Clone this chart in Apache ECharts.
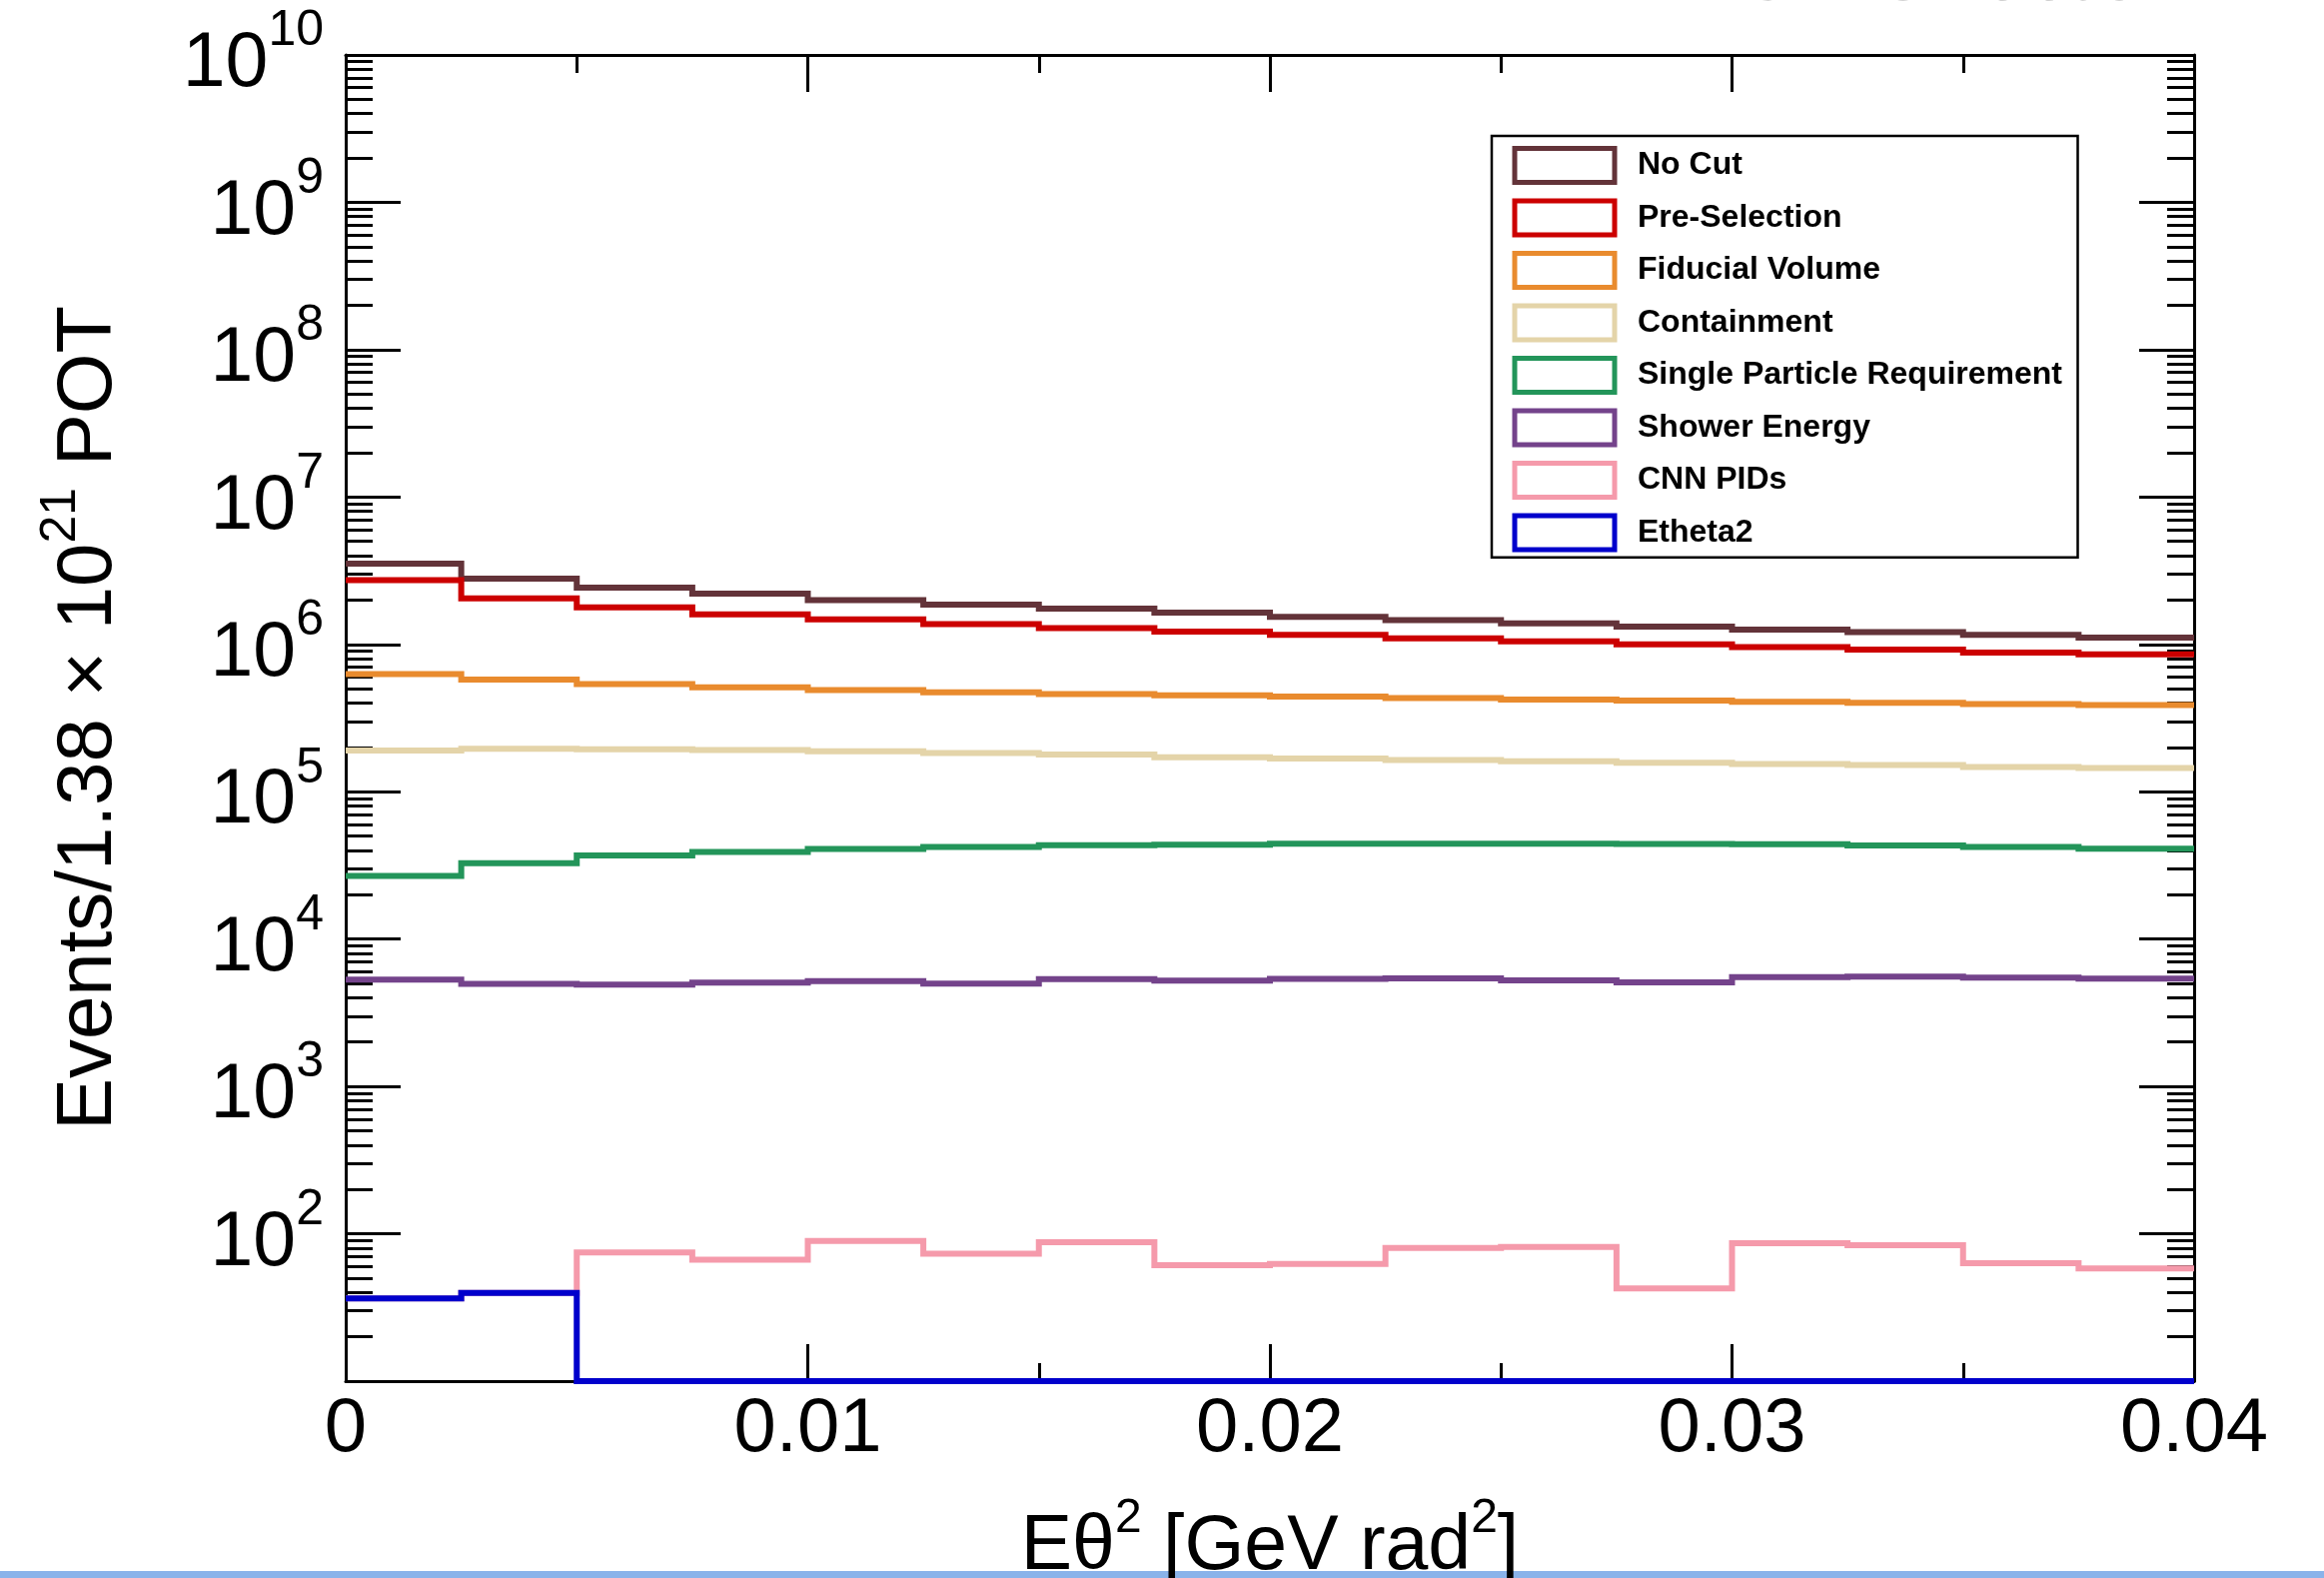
<!DOCTYPE html>
<html>
<head>
<meta charset="utf-8">
<script src="https://cdn.jsdelivr.net/npm/echarts@6/dist/echarts.min.js"></script>
<style>
  html, body { margin: 0; padding: 0; background: #ffffff; }
  #chart { width: 2326px; height: 1579px; }
</style>
</head>
<body>
<div id="chart"></div>
<script>
// Bin edges of the E·theta^2 histogram [GeV rad^2]
const binEdges = [0, 0.0025, 0.005, 0.0075, 0.01, 0.0125, 0.015, 0.0175, 0.02,
                  0.0225, 0.025, 0.0275, 0.03, 0.0325, 0.035, 0.0375, 0.04];

// Events per bin after each successive cut
const noCut          = [3.53e6, 2.79e6, 2.43e6, 2.21e6, 2.00e6, 1.86e6, 1.75e6, 1.64e6,
                        1.54e6, 1.46e6, 1.39e6, 1.32e6, 1.26e6, 1.21e6, 1.16e6, 1.11e6];
const preSelection   = [2.73e6, 2.05e6, 1.78e6, 1.60e6, 1.48e6, 1.37e6, 1.29e6, 1.22e6,
                        1.16e6, 1.10e6, 1.05e6, 1.00e6, 9.6e5, 9.2e5, 8.8e5, 8.55e5];
const fiducialVolume = [6.28e5, 5.78e5, 5.38e5, 5.11e5, 4.90e5, 4.72e5, 4.60e5, 4.51e5,
                        4.42e5, 4.32e5, 4.22e5, 4.15e5, 4.08e5, 4.02e5, 3.94e5, 3.87e5];
const containment    = [1.90e5, 1.96e5, 1.94e5, 1.92e5, 1.88e5, 1.83e5, 1.79e5, 1.71e5,
                        1.68e5, 1.64e5, 1.61e5, 1.57e5, 1.54e5, 1.52e5, 1.47e5, 1.45e5];
const singleParticle = [2.68e4, 3.27e4, 3.69e4, 3.90e4, 4.09e4, 4.22e4, 4.33e4, 4.37e4,
                        4.44e4, 4.44e4, 4.43e4, 4.42e4, 4.41e4, 4.31e4, 4.22e4, 4.11e4];
const showerEnergy   = [5.31e3, 4.96e3, 4.91e3, 5.07e3, 5.18e3, 4.99e3, 5.34e3, 5.22e3,
                        5.36e3, 5.42e3, 5.25e3, 5.09e3, 5.51e3, 5.57e3, 5.48e3, 5.39e3];
const cnnPids        = [36.4, 39.7, 74.6, 66.8, 89.5, 73.1, 87.7, 61.2,
                        62.5, 80.2, 81.5, 42.6, 86.3, 83.7, 63.2, 58.2];
const etheta2        = [36.4, 39.7, 0, 0, 0, 0, 0, 0,
                        0, 0, 0, 0, 0, 0, 0, 0];

const seriesNames = ['No Cut', 'Pre-Selection', 'Fiducial Volume', 'Containment',
                     'Single Particle Requirement', 'Shower Energy', 'CNN PIDs', 'Etheta2'];
const seriesValues = [noCut, preSelection, fiducialVolume, containment,
                      singleParticle, showerEnergy, cnnPids, etheta2];
const seriesColors = ['#633339', '#cc0000', '#e98b2e', '#e4d4a9',
                      '#23955a', '#74438b', '#f59aab', '#0000cc'];

// Axis ticks and labels
const xTickValues = [0, 0.01, 0.02, 0.03, 0.04];
const xTickLabels = ['0', '0.01', '0.02', '0.03', '0.04'];
const yDecadeValues = [1e2, 1e3, 1e4, 1e5, 1e6, 1e7, 1e8, 1e9, 1e10];
const yDecadeExponents = ['2', '3', '4', '5', '6', '7', '8', '9', '10'];

const yMin = 10, yMax = 1e10;
const FONT = "'Liberation Sans', Arial, Helvetica, sans-serif";
const LINE_WIDTH = 6;

// minor log ticks 2..9 x 10^k inside the visible range
const yMinorTicks = [];
for (let k = 1; k < 10; k++) {
  for (let m = 2; m <= 9; m++) yMinorTicks.push(m * Math.pow(10, k));
}

// bin contents as [left edge, value]; the last point closes the final bin.
// Empty bins sit on the bottom of the frame.
function histData(values) {
  const pts = values.map((v, i) => [binEdges[i], Math.max(v, yMin)]);
  pts.push([binEdges[binEdges.length - 1], Math.max(values[values.length - 1], yMin)]);
  return pts;
}

// one outline per series: flat top across each bin, vertical at each edge
function histRenderer(color) {
  return function (params, api) {
    if (params.dataIndexInside !== 0) return null;
    const n = params.dataInsideLength;
    const points = [];
    for (let j = 0; j < n - 1; j++) {
      const x0 = api.value(0, j), y0 = api.value(1, j);
      const x1 = api.value(0, j + 1);
      points.push(api.coord([x0, y0]));
      points.push(api.coord([x1, y0]));
    }
    const xl = api.value(0, n - 1), yl = api.value(1, n - 1);
    points.push(api.coord([xl, yl]));
    return {
      type: 'polyline',
      silent: true,
      shape: { points: points },
      style: { stroke: color, fill: null, lineWidth: LINE_WIDTH, lineJoin: 'miter', lineCap: 'butt' }
    };
  };
}

const series = seriesNames.map((name, i) => ({
  name: name,
  type: 'custom',
  xAxisIndex: 0,
  yAxisIndex: 0,
  encode: { x: 0, y: 1 },
  data: histData(seriesValues[i]),
  itemStyle: { color: seriesColors[i] },
  renderItem: histRenderer(seriesColors[i])
}));

const tickLine = { color: '#000', width: 3 };

function xAxisBase(position) {
  return {
    type: 'value', position: position, min: 0, max: 0.04, interval: 0.01,
    axisLine: { show: true, onZero: false, lineStyle: tickLine },
    axisTick: { show: true, inside: true, length: 37, lineStyle: tickLine },
    minorTick: { show: true, splitNumber: 2, length: 18, lineStyle: tickLine },
    splitLine: { show: false },
    axisLabel: { show: false }
  };
}

function yAxisBase(position, showLine, tickValues, tickLen) {
  return {
    type: 'log', logBase: 10, position: position, min: yMin, max: yMax,
    axisLine: { show: showLine, onZero: false, lineStyle: tickLine },
    axisTick: { show: true, inside: true, length: tickLen, customValues: tickValues, lineStyle: tickLine },
    splitLine: { show: false },
    axisLabel: { show: false }
  };
}

const xBottom = xAxisBase('bottom');
xBottom.axisLabel = {
  show: true, margin: 11, fontSize: 76, fontFamily: FONT, color: '#000',
  formatter: function (v) {
    const i = xTickValues.findIndex(t => Math.abs(t - v) < 1e-9);
    return i >= 0 ? xTickLabels[i] : '';
  }
};
xBottom.name = '{t|Eθ}{s|2}{t| [GeV rad}{s|2}{t|]}';
xBottom.nameLocation = 'middle';
xBottom.nameGap = 114;
xBottom.nameTextStyle = {
  color: '#000', fontFamily: FONT, fontSize: 77,
  rich: {
    t: { fontSize: 77, fontFamily: FONT, color: '#000', padding: [14, 0, 0, 0] },
    s: { fontSize: 48, fontFamily: FONT, color: '#000', verticalAlign: 'top' }
  }
};

const xTop = xAxisBase('top');

const yLeftMajor = yAxisBase('left', true, yDecadeValues.slice(0, 8), 55);
yLeftMajor.axisLabel = {
  show: true, margin: 22, customValues: yDecadeValues,
  fontFamily: FONT, color: '#000',
  formatter: function (v) {
    const i = yDecadeValues.findIndex(t => Math.abs(Math.log10(t) - Math.log10(v)) < 1e-6);
    return i >= 0 ? '{b|10}{e|' + yDecadeExponents[i] + '}' : '';
  },
  rich: {
    b: { fontSize: 77, fontFamily: FONT, color: '#000', padding: [20, 0, 0, 0] },
    e: { fontSize: 50, fontFamily: FONT, color: '#000', verticalAlign: 'top' }
  }
};
yLeftMajor.name = '{t|Events/1.38 × 10}{s|21}{t| POT}';
yLeftMajor.nameLocation = 'middle';
yLeftMajor.nameRotate = 90;
yLeftMajor.nameGap = 218;
yLeftMajor.nameTextStyle = {
  color: '#000', fontFamily: FONT, fontSize: 78,
  rich: {
    t: { fontSize: 78, fontFamily: FONT, color: '#000', padding: [14, 0, 0, 0] },
    s: { fontSize: 50, fontFamily: FONT, color: '#000', verticalAlign: 'top' }
  }
};

const yLeftMinor = yAxisBase('left', false, yMinorTicks, 27);
const yRightMajor = yAxisBase('right', true, yDecadeValues.slice(0, 8), 55);
const yRightMinor = yAxisBase('right', false, yMinorTicks, 27);

const option = {
  animation: false,
  backgroundColor: '#ffffff',
  grid: { left: 346, right: 130, top: 55, bottom: 197, containLabel: false, outerBoundsMode: 'none' },
  xAxis: [xBottom, xTop],
  yAxis: [yLeftMajor, yLeftMinor, yRightMajor, yRightMinor],
  legend: {
    orient: 'vertical', left: 1493, top: 136,
    padding: [10, 15.5, 5.2, 20.5],
    itemWidth: 100, itemHeight: 34, itemGap: 13.5,
    icon: 'rect',
    backgroundColor: '#ffffff',
    borderColor: '#000', borderWidth: 2.5,
    selectedMode: false,
    textStyle: { fontFamily: FONT, fontWeight: 'bold', fontSize: 32, color: '#000', padding: [0, 0, 0, 18] },
    data: seriesNames.map((n, i) => ({
      name: n,
      itemStyle: { color: 'rgba(0,0,0,0)', borderColor: seriesColors[i], borderWidth: 5 }
    }))
  },
  graphic: [
    {
      type: 'text', right: 153, top: -48, silent: true,
      style: { text: 'NOvA Simulation', fontFamily: FONT, fontSize: 62, fill: '#a8a8a8' }
    },
    {
      type: 'rect', left: 0, top: 1572, silent: true,
      shape: { width: 2326, height: 7 },
      style: { fill: '#8ab3ea' }
    }
  ],
  series: series
};

const chart = echarts.init(document.getElementById('chart'), null, { renderer: 'canvas' });
chart.setOption(option);
</script>
</body>
</html>
